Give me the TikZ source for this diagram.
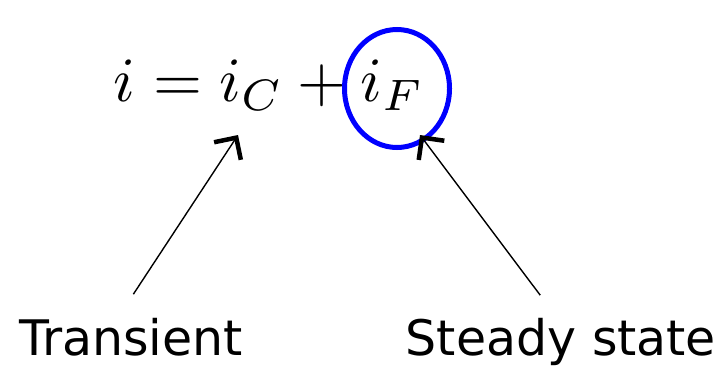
\documentclass[tikz,border=0pt]{standalone}
\usepackage{fontspec}
\setmainfont{DejaVu Sans}
\usepackage{tikz}
\usetikzlibrary{arrows.meta,positioning}

\begin{document}
\begin{tikzpicture}[
  x=1pt, y=-1pt,
  lbl/.style={inner sep=0pt, anchor=base, text depth=0pt, font=\fontsize{49}{52}\selectfont},
  arr/.style={-{Straight Barb[length=16pt,width=32pt,line width=4.5pt]}, line width=1.4pt, shorten <=28pt}]
  \useasboundingbox (0,0) rectangle (717,367);
  \node[inner sep=0pt, anchor=base, scale=6.3] (eqn) at (269,101) {$i = i_C + i_F$};
  \draw[blue, line width=5pt] (397,88.5) ellipse [x radius=52.5, y radius=59];
  \node[lbl] (trans) at (131,355) {Transient};
  \node[lbl] (steady) at (561,355) {Steady state};
  \coordinate (ctip) at (238,135);
  \coordinate (ftip) at (420,135);
  \draw[arr] ([xshift=-13pt]trans.north) -- (ctip);
  \draw[arr] ([xshift=-4pt]steady.north) -- (ftip);
\end{tikzpicture}
\end{document}
